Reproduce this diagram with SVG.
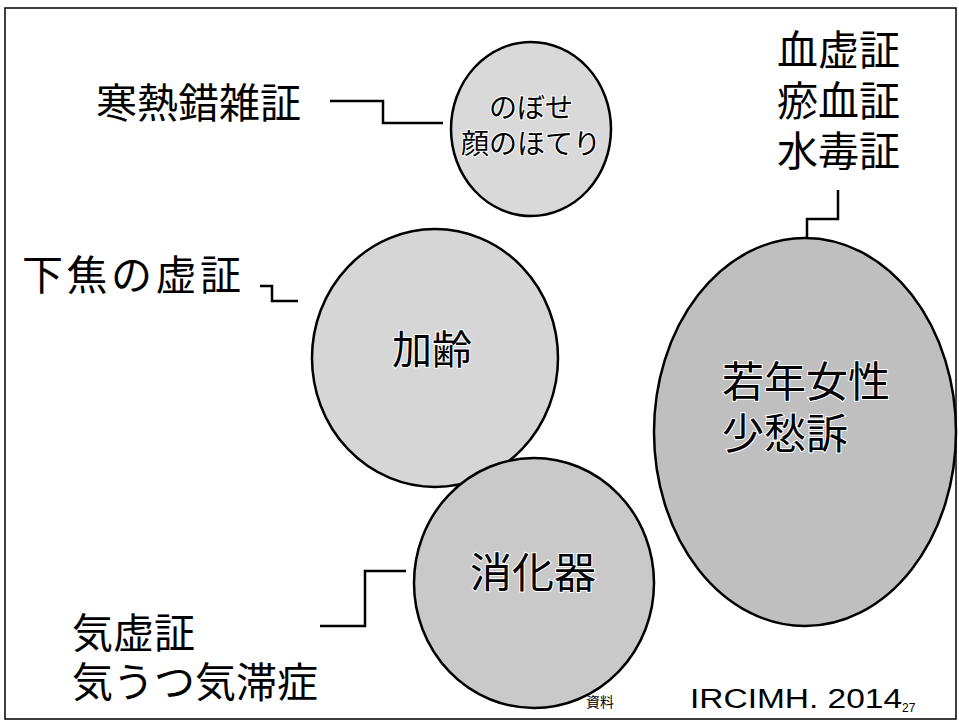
<svg xmlns="http://www.w3.org/2000/svg" width="959" height="723" viewBox="0 0 959 723">
<style>
.lbl{font-family:"Liberation Sans","Noto Sans CJK JP",sans-serif;font-size:41px;fill:#000}
.in{font-family:"Liberation Sans","Noto Sans CJK JP",sans-serif;fill:#000;stroke:#fff;stroke-width:2;paint-order:stroke;text-anchor:middle}
.node{stroke:#000;stroke-width:2.5}
.conn{fill:none;stroke:#000;stroke-width:2.5}
</style>
<rect x="5" y="8" width="951" height="711" fill="#fff" stroke="#000" stroke-width="1.5"/>
<g id="connectors">
<polyline class="conn" points="330,101 383,101 383,123 443,123"/>
<polyline class="conn" points="838,190 838,219 807,219 807,243"/>
<polyline class="conn" points="260,286 272,286 272,301 298,301"/>
<polyline class="conn" points="320,626 365,626 365,571 406,571"/>
</g>
<g id="node-nobose">
<ellipse class="node" cx="531" cy="129" rx="80" ry="87" fill="#d9d9d9"/>
<text class="in" font-size="28"><tspan x="531" y="118">のぼせ</tspan><tspan x="531" y="154">顔のほてり</tspan></text>
</g>
<g id="node-karei">
<ellipse class="node" cx="435" cy="358" rx="123" ry="129" fill="#d6d6d6"/>
<text class="in" x="432" y="364" font-size="40">加齢</text>
</g>
<g id="node-jakunen">
<ellipse class="node" cx="805" cy="432" rx="151" ry="194" fill="#bfbfbf"/>
<text class="in" font-size="42" style="text-anchor:start"><tspan x="722" y="397">若年女性</tspan><tspan x="722" y="449">少愁訴</tspan></text>
</g>
<g id="node-shoukaki">
<ellipse class="node" cx="534" cy="583" rx="120" ry="125" fill="#c9c9c9"/>
<text class="in" x="533" y="588" font-size="42">消化器</text>
</g>
<g id="label-kannetsu"><text class="lbl" x="96" y="118">寒熱錯雑証</text></g>
<g id="label-kekkyo">
<text class="lbl"><tspan x="777" y="65">血虚証</tspan><tspan x="777" y="116">瘀血証</tspan><tspan x="777" y="166">水毒証</tspan></text>
</g>
<g id="label-kashou"><text class="lbl" x="22" y="290" letter-spacing="3.5">下焦の虚証</text></g>
<g id="label-kikyo">
<text class="lbl"><tspan x="72" y="648">気虚証</tspan><tspan x="72" y="697">気うつ気滞症</tspan></text>
</g>
<text x="600" y="707" font-family="Noto Sans CJK JP,sans-serif" font-size="14" text-anchor="middle">資料</text>
<text x="690" y="708" font-family="Liberation Sans,sans-serif" font-size="27"><tspan textLength="212" lengthAdjust="spacingAndGlyphs">IRCIMH. 2014</tspan><tspan font-size="12" dy="4">27</tspan></text>
</svg>
